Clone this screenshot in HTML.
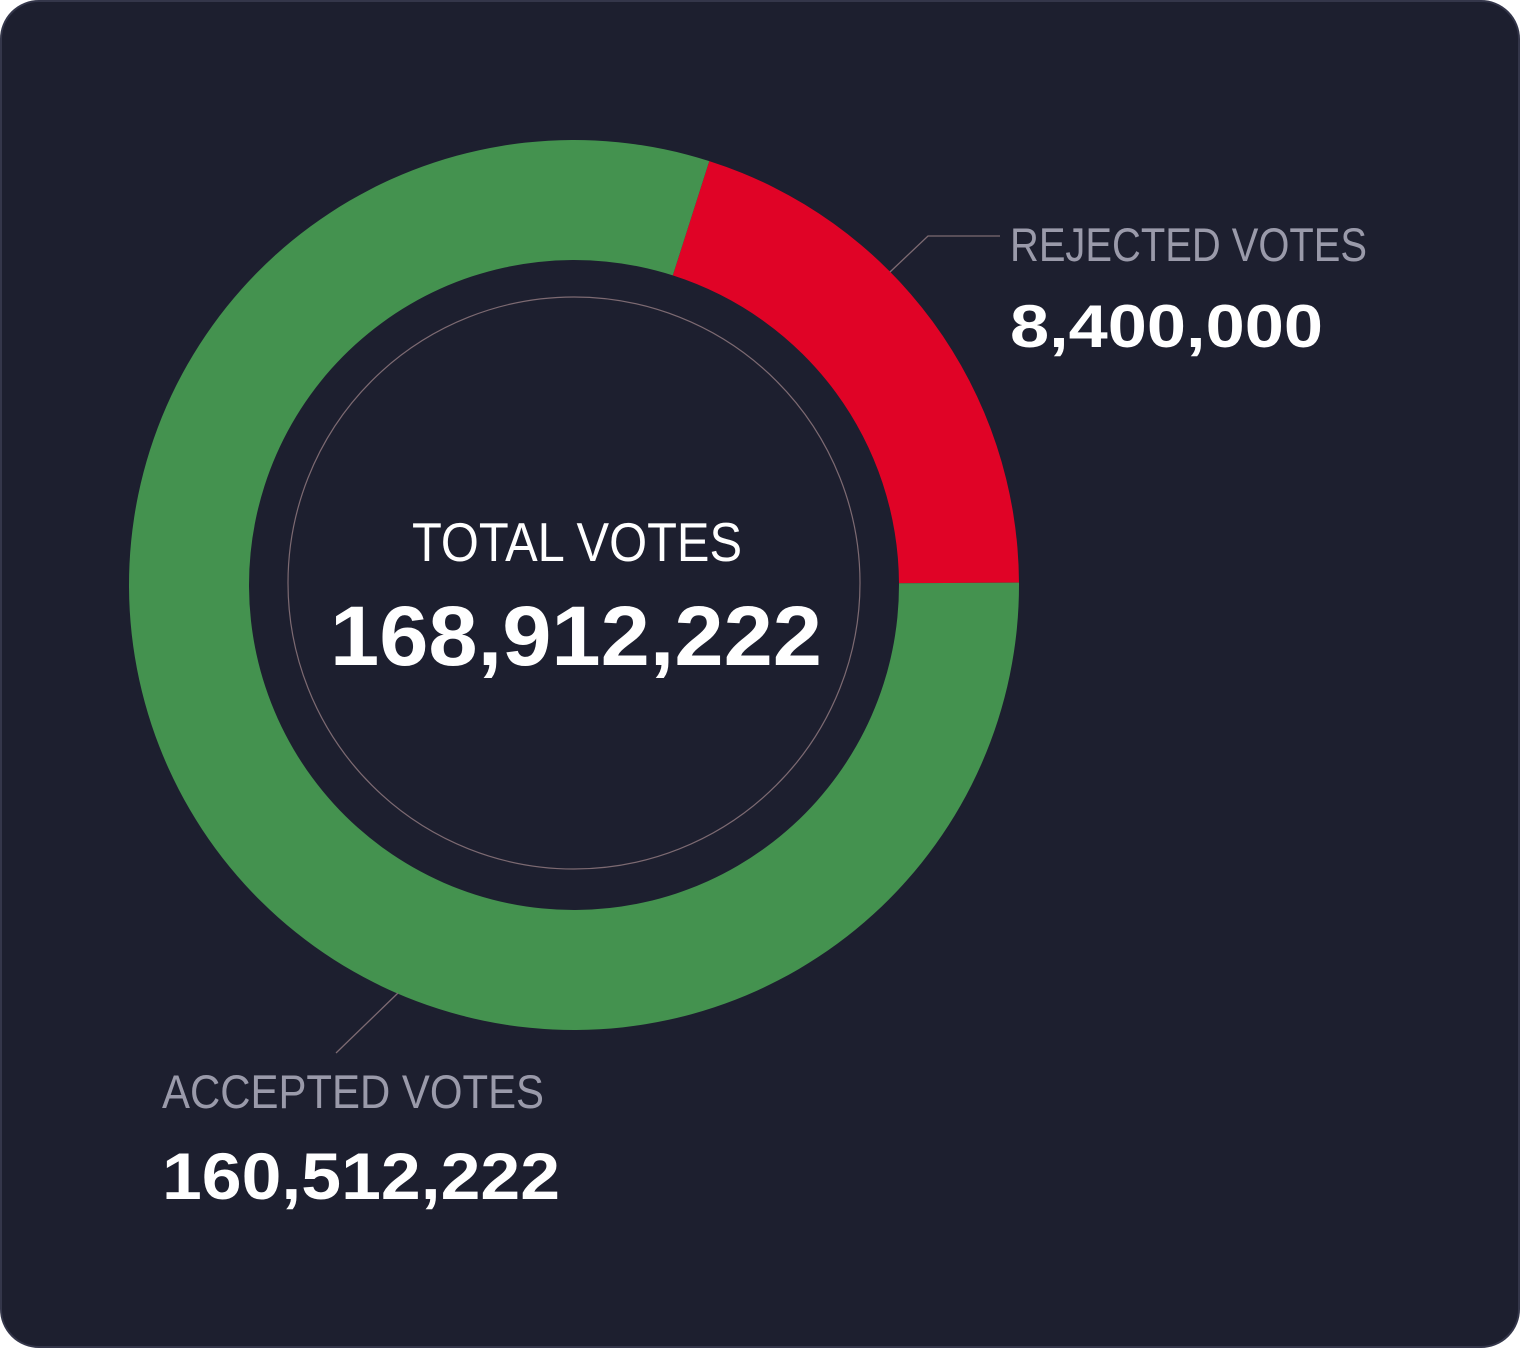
<!DOCTYPE html>
<html><head><meta charset="utf-8"><style>
html,body{margin:0;padding:0;background:#ffffff;}
svg{display:block;}
text{font-family:"Liberation Sans",sans-serif;}
</style></head><body>
<svg width="1520" height="1348" viewBox="0 0 1520 1348">
<rect x="1" y="1" width="1518" height="1346" rx="38" fill="#1d1f2f" stroke="#34364a" stroke-width="2"/>
<g id="slices"></g>
<circle cx="574" cy="583" r="286" fill="none" stroke="#7d6a72" stroke-width="1.2"/>
<polyline points="890,272 928,236 1000,236" fill="none" stroke="#7d6a72" stroke-width="1.3"/>
<line x1="398" y1="993" x2="336" y2="1053" stroke="#7d6a72" stroke-width="1.3"/>
<text x="577" y="561" text-anchor="middle" font-size="55" fill="#ffffff" textLength="330" lengthAdjust="spacingAndGlyphs">TOTAL VOTES</text>
<text x="576" y="665" text-anchor="middle" font-size="84" font-weight="bold" fill="#ffffff" textLength="492" lengthAdjust="spacingAndGlyphs">168,912,222</text>
<text x="1010" y="261" font-size="47" fill="#9a9aaa" textLength="357" lengthAdjust="spacingAndGlyphs">REJECTED VOTES</text>
<text x="1010" y="347" font-size="60" font-weight="bold" fill="#ffffff" textLength="313" lengthAdjust="spacingAndGlyphs">8,400,000</text>
<text x="162" y="1108" font-size="47" fill="#9a9aaa" textLength="382" lengthAdjust="spacingAndGlyphs">ACCEPTED VOTES</text>
<text x="162" y="1199" font-size="66" font-weight="bold" fill="#ffffff" textLength="398" lengthAdjust="spacingAndGlyphs">160,512,222</text>
</svg>
<script>
const categories = ["rejected", "accepted"];
const sliceShares = [20, 80];
const sliceColors = ["#e00326", "#44924f"];
const startAngleDeg = 17.7;
const cx = 574, cy = 585, R = 445, r = 325;
const g = document.getElementById('slices');
const total = sliceShares.reduce((a,b)=>a+b,0);
function pt(rad, a){ const t=(a-90)*Math.PI/180; return [cx+rad*Math.cos(t), cy+rad*Math.sin(t)]; }
let a0 = startAngleDeg;
sliceShares.forEach((v,i)=>{
  const a1 = a0 + v/total*360;
  const large = (a1-a0)>180?1:0;
  const p1=pt(R,a0),p2=pt(R,a1),p3=pt(r,a1),p4=pt(r,a0);
  const p=document.createElementNS('http://www.w3.org/2000/svg','path');
  p.setAttribute('d',`M${p1[0]},${p1[1]} A${R},${R} 0 ${large} 1 ${p2[0]},${p2[1]} L${p3[0]},${p3[1]} A${r},${r} 0 ${large} 0 ${p4[0]},${p4[1]} Z`);
  p.setAttribute('fill',sliceColors[i]);
  
  
  g.appendChild(p);
  a0 = a1;
});
</script>
</body></html>
